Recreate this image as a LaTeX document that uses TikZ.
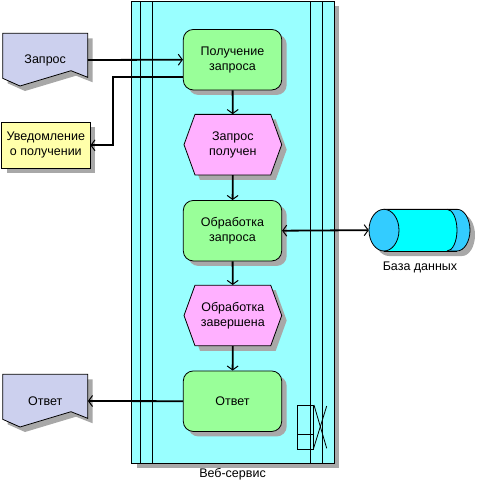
\documentclass[tikz,border=0pt]{standalone}
\usepackage{fontspec}
\setmainfont{Liberation Sans}
\usetikzlibrary{arrows.meta,shadows,calc}
\definecolor{lanec}{HTML}{99FFFF}
\definecolor{greenc}{HTML}{99FF99}
\definecolor{pinkc}{HTML}{FFB0FF}
\definecolor{docc}{HTML}{CCD0EE}
\definecolor{yellc}{HTML}{FFFFAA}
\definecolor{shadowc}{HTML}{A8A8A8}
\definecolor{dbbody}{HTML}{00FFFF}
\definecolor{dbcap}{HTML}{33CCFF}
\newcommand\myhexpath[1]{(184,#1) -- (195,{#1-30.3}) -- (270.7,{#1-30.3}) -- (281.7,#1) -- (270.7,{#1+30.3}) -- (195,{#1+30.3}) -- cycle}
\newcommand\mydocpath[1]{(2.7,{33.3+#1}) -- (2.7,{78.3+#1}) -- (20,{86+#1}) -- (71,{70.7+#1}) -- (87.7,{77.3+#1}) -- (87.7,{33.3+#1}) -- cycle}
\begin{document}
\begin{tikzpicture}[x=1pt,y=-1pt,
  shd/.style={drop shadow={shadow xshift=5pt,shadow yshift=-5pt,fill=shadowc,opacity=1}},
  txt/.style={font=\fontsize{12.5}{15}\selectfont,align=center,inner sep=0pt},
  greenbox/.style={txt,rectangle,rounded corners=10pt,draw,line width=0.8pt,fill=greenc,shd,minimum width=98.4pt,minimum height=60.5pt},
  hexbox/.style={txt,rectangle,minimum width=97.7pt,minimum height=60.6pt},
  hexshape/.style={draw,line width=0.8pt,fill=pinkc,shd},
  docshape/.style={draw,line width=0.8pt,fill=docc,shd},
  docbox/.style={txt,rectangle,minimum width=85pt,minimum height=53.4pt},
  notebox/.style={txt,rectangle,draw,line width=0.8pt,fill=yellc,shd,minimum width=88.3pt,minimum height=46pt},
  lanebox/.style={rectangle,draw,line width=0.8pt,fill=lanec,shd,minimum width=202.3pt,minimum height=462.3pt,inner sep=0pt},
  laneline/.style={line width=0.8pt},
  conn/.style={line width=1.8pt,-{Straight Barb[length=4pt,width=11pt,line width=1pt]}},
  conn2/.style={line width=1.8pt,{Straight Barb[length=4pt,width=11pt,line width=1pt]}-{Straight Barb[length=4pt,width=11pt,line width=1pt]}},
  lbl/.style={font=\fontsize{12.5}{15}\selectfont,inner sep=0pt}
]
\useasboundingbox (0,0) rectangle (493,499);

% swimlane
\node[lanebox] (lane) at (232.85,232.15) {};
\draw[laneline] (140.3,1) -- (140.3,463.3);
\draw[laneline] (152.3,1) -- (152.3,463.3);
\draw[laneline] (310.3,1) -- (310.3,463.3);
\draw[laneline] (322.3,1) -- (322.3,463.3);
\node[lbl] (lanelbl) at (232.5,474.5) {Веб-сервис};

% lane symbol
\draw[laneline] (297.3,405) rectangle (313.3,449.3);
\draw[laneline] (297.3,434) -- (313.3,434);
\draw[laneline] (314,405) -- (326.7,448.3);
\draw[laneline] (326.7,406) -- (313.3,449.3);

% activities
\node[greenbox] (p1) at (232.5,59.7) {Получение\\запроса};
\fill[hexshape] \myhexpath{144.65};
\node[hexbox] (h1) at (232.85,144.65) {Запрос\\получен};
\node[greenbox] (p2) at (232.5,230.7) {Обработка\\запроса};
\fill[hexshape] \myhexpath{315.5};
\node[hexbox] (h2) at (232.85,315.5) {Обработка\\завершена};
\node[greenbox] (p3) at (232.5,401.2) {Ответ};

% documents
\fill[docshape] \mydocpath{0};
\node[docbox] (req) at (45.2,60) {Запрос};
\fill[docshape] \mydocpath{341};
\node[docbox] (resp) at (45.2,401) {Ответ};

% notification
\node[notebox] (note) at (45.85,145.3) {Уведомление\\о получении};

% database
\fill[shadowc] (389,214.3) -- (462,214.3) arc[start angle=90,end angle=-90,x radius=13pt,y radius=20.85pt] -- (389,256) arc[start angle=270,end angle=90,x radius=15pt,y radius=20.85pt] -- cycle;
\filldraw[fill=dbcap,line width=0.8pt] (384,209.3) -- (457,209.3) arc[start angle=90,end angle=-90,x radius=13pt,y radius=20.85pt] -- (384,251) -- cycle;
\fill[dbbody] (384,209.3) -- (447,209.3) arc[start angle=90,end angle=-90,x radius=10pt,y radius=20.85pt] -- (384,251) -- cycle;
\draw[line width=0.8pt] (447,209.3) arc[start angle=90,end angle=-90,x radius=10pt,y radius=20.85pt];
\draw[line width=0.8pt] (384,209.3) -- (457,209.3);
\draw[line width=0.8pt] (384,251) -- (457,251);
\filldraw[fill=dbcap,line width=0.8pt] (384,230.15) ellipse[x radius=15pt,y radius=20.85pt];
\node[rectangle,minimum width=101pt,minimum height=41.7pt,inner sep=0pt] (db) at (419.5,230.15) {};
\node[lbl] (dblbl) at (420,267) {База данных};

% connectors
\draw[conn] (req.east) -- (p1.west);
\draw[conn] ([yshift=-17pt]p1.west) -- ++(-70,0) |- (note.east);
\draw[conn] (p1) -- (h1);
\draw[conn] (h1) -- (p2);
\draw[conn2] (p2.east) -- (db.west);
\draw[conn] (p2) -- (h2);
\draw[conn] (h2) -- (p3);
\draw[conn] (p3.west) -- (resp.east);
\end{tikzpicture}
\end{document}
